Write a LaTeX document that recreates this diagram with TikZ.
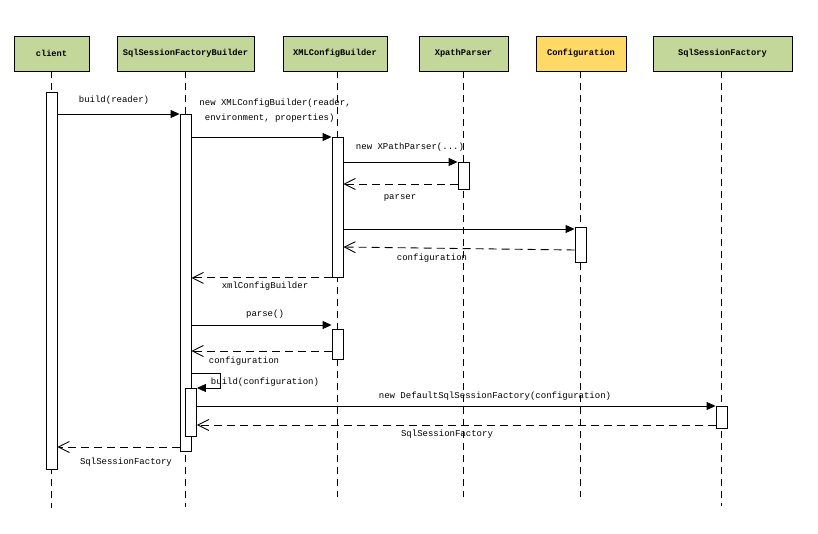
\documentclass[tikz,border=0pt]{standalone}
\usepackage{fontspec}
\setmonofont{Liberation Mono}
\usetikzlibrary{arrows.meta, positioning, calc}
\definecolor{headgreen}{RGB}{196,215,155}
\definecolor{headyellow}{RGB}{255,217,102}
\tikzset{
    head/.style = {draw=black, fill=headgreen, minimum height=35pt, inner sep=0pt,
        font=\ttfamily\bfseries\fontsize{8.7}{10}\selectfont},
    confhead/.style = {head, fill=headyellow},
    lifeline/.style = {draw=black, dash pattern=on 7pt off 5pt},
    bar/.style = {draw=black, fill=white, minimum width=11pt, inner sep=0pt, anchor=north},
    call/.style = {-{Triangle[length=9pt,width=8pt]}},
    reply/.style = {dash pattern=on 8pt off 5pt, -{Straight Barb[length=11pt,width=11pt]}},
    msglabel/.style = {font=\ttfamily\fontsize{9}{11}\selectfont, inner sep=0pt},
}

\begin{document}
\begin{tikzpicture}[x=1pt,y=-1pt,line width=0.9pt]
        \useasboundingbox (0,0) rectangle (818,534);
        % heads
        \node [head, minimum width=75pt] (client) at (51.5,53.5) {client};
        \node [head, minimum width=137pt] (builder) at (185.5,53.5) {SqlSessionFactoryBuilder};
        \node [head, minimum width=104pt] (xmlcb) at (335,53.5) {XMLConfigBuilder};
        \node [head, minimum width=89pt] (xpath) at (463.5,53.5) {XpathParser};
        \node [confhead, minimum width=90pt] (config) at (581,53.5) {Configuration};
        \node [head, minimum width=139pt] (factory) at (722.5,53.5) {SqlSessionFactory};
        % lifelines
        \draw [lifeline] (client.south) -- (client.south |- 0,508);
        \draw [lifeline] (builder.south) -- (builder.south |- 0,507);
        \draw [lifeline] ([xshift=2pt]xmlcb.south) -- ([xshift=2pt]xmlcb.south |- 0,497);
        \draw [lifeline] (xpath.south) -- (xpath.south |- 0,497);
        \draw [lifeline] ([xshift=-0.5pt]config.south) -- ([xshift=-0.5pt]config.south |- 0,497);
        \draw [lifeline] ([xshift=-1pt]factory.south) -- ([xshift=-1pt]factory.south |- 0,506);
        % activations
        \node [bar, minimum height=377pt] (cl) at (51.5,92) {};
        \node [bar, minimum height=337pt] (sfb1) at (185.5,114) {};
        \node [bar, minimum height=48pt] (sfb2) at (191,388) {};
        \node [bar, minimum height=140pt] (xcb1) at (337.5,137) {};
        \node [bar, minimum height=30pt] (xcb2) at (337.5,329) {};
        \node [bar, minimum height=27pt] (xp) at (463.5,162) {};
        \node [bar, minimum height=35pt] (cfg) at (580.5,227) {};
        \node [bar, minimum height=22pt] (ssf) at (721.5,406) {};
        % messages
        \draw [call] (cl.east |- 0,114) -- (sfb1.north west);
        \node [msglabel] (m1) at (114,100) {build(reader)};
        \draw [call] (sfb1.east |- 0,137) -- (xcb1.north west);
        \node [msglabel, anchor=west, align=left] (m2) at (199,110.5)
            {new XMLConfigBuilder(reader,\\[4pt]\ environment, properties)};
        \draw [call] (xcb1.east |- 0,162) -- (xp.north west);
        \node [msglabel] (m3) at (410,147) {new XPathParser(...)};
        \draw [reply] (xp.west |- 0,184) -- (xcb1.east |- 0,184);
        \node [msglabel] (m4) at (400,198) {parser};
        \draw [call] (xcb1.east |- 0,229) -- (cfg.west |- 0,229);
        \draw [reply] (cfg.west |- 0,250) -- (xcb1.east |- 0,247);
        \node [msglabel] (m5) at (432,258) {configuration};
        \draw [reply] (xcb1.south west) -- (sfb1.east |- xcb1.south west);
        \node [msglabel] (m6) at (265,286) {xmlConfigBuilder};
        \draw [call] (sfb1.east |- 0,325) -- (xcb2.west |- 0,325);
        \node [msglabel] (m7) at (265,314) {parse()};
        \draw [reply] (xcb2.west |- 0,351) -- (sfb1.east |- 0,351);
        \node [msglabel] (m8) at (244,361) {configuration};
        \draw [call] (sfb1.east |- 0,373) -- ++(29,0) |- (sfb2.north east);
        \node [msglabel] (m9) at (265,382) {build(configuration)};
        \draw [call] (sfb2.east |- 0,406) -- (ssf.north west);
        \node [msglabel] (m10) at (495,396) {new DefaultSqlSessionFactory(configuration)};
        \draw [reply] (ssf.west |- 0,425) -- (sfb2.east |- 0,425);
        \node [msglabel] (m11) at (447,434) {SqlSessionFactory};
        \draw [reply] (sfb1.west |- 0,447) -- (cl.east |- 0,447);
        \node [msglabel] (m12) at (126,462) {SqlSessionFactory};
\end{tikzpicture}
\end{document}
